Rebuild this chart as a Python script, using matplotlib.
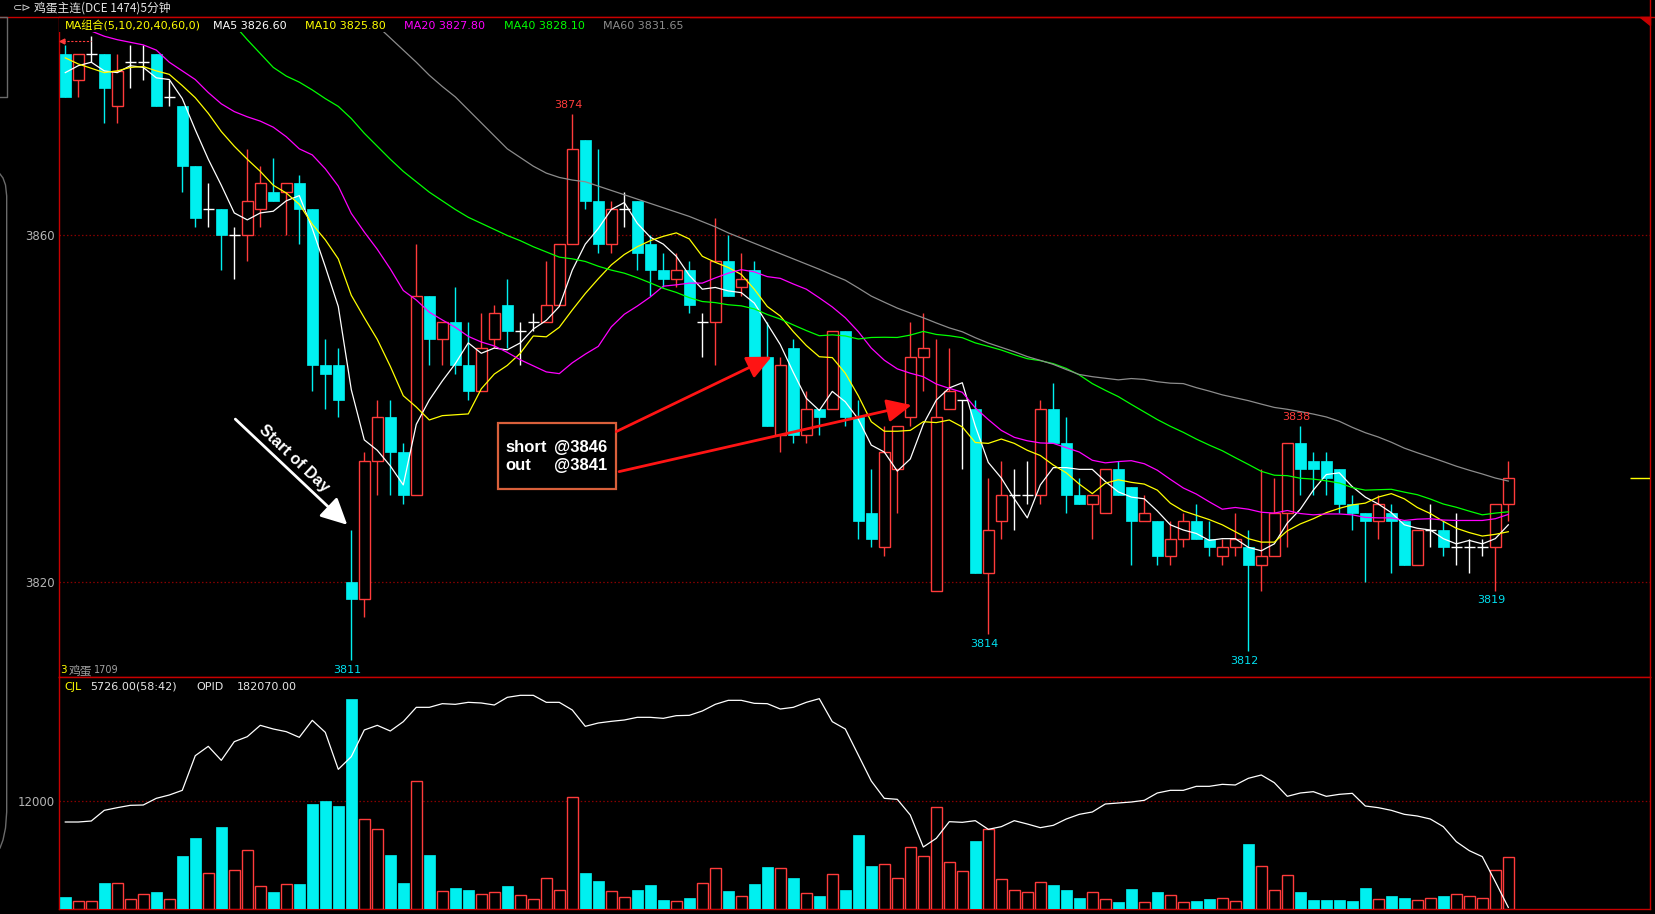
import numpy as np
import pandas as pd
import matplotlib
matplotlib.use("Agg")
import matplotlib.pyplot as plt
from matplotlib.patches import Rectangle, Polygon
from matplotlib.lines import Line2D

# ---------------- data ----------------
opens = [3881, 3878, 3881, 3881, 3875, 3880, 3880, 3881, 3876, 3875,
         3868, 3863, 3863, 3860, 3860, 3863, 3865, 3865, 3866, 3863,
         3845, 3845, 3820, 3818, 3834, 3839, 3835, 3830, 3853, 3848,
         3850, 3845, 3842, 3848, 3852, 3849, 3850, 3850, 3852, 3859,
         3871, 3864, 3859, 3863, 3864, 3859, 3856, 3855, 3856, 3850,
         3850, 3857, 3854, 3856, 3846, 3837, 3847, 3837, 3840, 3840,
         3849, 3839, 3828, 3824, 3833, 3839, 3846, 3819, 3840, 3841,
         3840, 3821, 3827, 3830, 3830, 3830, 3840, 3836, 3830, 3829,
         3828, 3833, 3831, 3827, 3827, 3823, 3825, 3827, 3825, 3823,
         3824, 3824, 3822, 3823, 3828, 3836, 3834, 3834, 3833, 3829,
         3828, 3827, 3828, 3827, 3822, 3826, 3826, 3824, 3824, 3824,
         3824, 3829]
highs = [3882, 3881, 3883, 3881, 3881, 3882, 3882, 3881, 3878, 3875,
         3868, 3866, 3863, 3861, 3870, 3868, 3869, 3866, 3867, 3863,
         3848, 3847, 3826, 3835, 3841, 3841, 3836, 3859, 3853, 3850,
         3854, 3850, 3851, 3852, 3855, 3850, 3851, 3857, 3859, 3874,
         3871, 3870, 3864, 3865, 3864, 3860, 3858, 3858, 3857, 3851,
         3862, 3860, 3858, 3857, 3850, 3846, 3848, 3842, 3840, 3849,
         3849, 3841, 3833, 3838, 3838, 3850, 3851, 3848, 3847, 3841,
         3841, 3832, 3834, 3833, 3834, 3841, 3843, 3839, 3832, 3830,
         3833, 3834, 3831, 3830, 3827, 3827, 3828, 3829, 3827, 3825,
         3828, 3826, 3833, 3832, 3836, 3838, 3835, 3835, 3833, 3830,
         3828, 3830, 3829, 3827, 3826, 3829, 3827, 3828, 3825, 3825,
         3829, 3834]
lows = [3876, 3876, 3880, 3873, 3873, 3877, 3878, 3875, 3875, 3865,
        3861, 3861, 3856, 3855, 3857, 3861, 3864, 3860, 3859, 3842,
        3840, 3839, 3811, 3816, 3830, 3830, 3829, 3830, 3845, 3845,
        3844, 3841, 3842, 3847, 3847, 3845, 3849, 3850, 3852, 3859,
        3863, 3858, 3858, 3861, 3856, 3853, 3854, 3854, 3851, 3846,
        3845, 3853, 3853, 3846, 3838, 3835, 3836, 3836, 3837, 3840,
        3838, 3825, 3824, 3823, 3828, 3838, 3842, 3819, 3840, 3833,
        3821, 3814, 3825, 3826, 3829, 3829, 3836, 3828, 3829, 3825,
        3828, 3830, 3822, 3827, 3822, 3822, 3824, 3825, 3823, 3822,
        3823, 3812, 3819, 3823, 3824, 3830, 3830, 3830, 3828, 3826,
        3820, 3825, 3821, 3822, 3822, 3824, 3823, 3822, 3821, 3823,
        3819, 3827]
closes = [3876, 3881, 3881, 3877, 3879, 3880, 3880, 3875, 3876, 3868,
          3862, 3863, 3860, 3860, 3864, 3866, 3864, 3866, 3863, 3845,
          3844, 3841, 3818, 3834, 3839, 3835, 3830, 3853, 3848, 3850,
          3845, 3842, 3847, 3851, 3849, 3849, 3850, 3852, 3859, 3870,
          3864, 3859, 3863, 3863, 3858, 3856, 3855, 3856, 3852, 3850,
          3857, 3853, 3855, 3846, 3838, 3845, 3837, 3840, 3839, 3849,
          3839, 3827, 3825, 3835, 3838, 3846, 3847, 3839, 3842, 3841,
          3821, 3826, 3830, 3830, 3830, 3840, 3836, 3830, 3829, 3830,
          3833, 3830, 3827, 3828, 3823, 3825, 3827, 3825, 3824, 3824,
          3825, 3822, 3823, 3828, 3836, 3833, 3833, 3832, 3829, 3828,
          3827, 3829, 3827, 3822, 3826, 3826, 3824, 3824, 3824, 3824,
          3829, 3832]
volumes = [1271, 785, 785, 2841, 2804, 1009, 1570, 1832, 1009, 5869,
           7887, 3925, 9121, 4261, 6504, 2467, 1832, 2691, 2729, 11700,
           12036, 11476, 23475, 9980, 8859, 5981, 2841, 14242, 5981, 1906,
           2280, 2056, 1570, 1794, 2504, 1458, 1009, 3364, 2019, 12448,
           3962, 3065, 1906, 1234, 2056, 2617, 935, 785, 1159, 2804,
           4486, 1944, 1346, 2729, 4635, 4486, 3402, 1682, 1383, 3813,
           2056, 8224, 4747, 4934, 3364, 6841, 5831, 11326, 5158, 4149,
           7551, 8859, 3252, 2019, 1794, 2916, 2617, 2056, 1159, 1794,
           1009, 710, 2168, 673, 1832, 1458, 673, 822, 1047, 1121,
           785, 7214, 4710, 2019, 3701, 1832, 935, 935, 935, 822,
           2280, 1009, 1383, 1159, 897, 1121, 1383, 1570, 1383, 1121,
           4261, 5726]
open_interest = [187190, 187190, 187250, 187890, 188050, 188190, 188210, 188610, 188810, 189090,
                 191170, 191730, 190890, 192010, 192310, 192990, 192770, 192610, 192270, 193290,
                 192570, 190350, 191110, 192710, 192990, 192650, 193210, 194070, 194070, 194290,
                 194250, 194370, 194330, 194210, 194670, 194790, 194790, 194370, 194370, 193910,
                 192930, 193130, 193230, 193310, 193470, 193470, 193410, 193570, 193590, 193850,
                 194250, 194490, 194490, 194310, 194290, 193970, 194070, 194370, 194590, 193210,
                 192770, 191210, 189650, 188610, 188550, 187610, 185690, 186210, 187210, 187170,
                 187270, 186750, 186910, 187270, 187070, 186850, 186990, 187370, 187650, 187790,
                 188270, 188330, 188390, 188490, 188930, 189090, 189090, 189330, 189330, 189450,
                 189410, 189810, 190010, 189550, 188730, 188930, 189010, 188730, 188850, 188910,
                 188150, 188050, 187890, 187650, 187550, 187370, 186910, 186010, 185470, 185110,
                 183610, 182070]

# moving-average values at the left edge (their history lies before the window)
nan = np.nan
ma5_head = [3878.8, 3879.6, 3880.0, 3879.0]
ma10_head = [3880.5, 3879.8, 3879.3, 3878.8, 3879.0, 3879.4, 3879.5, 3879.0, 3878.6]
ma20_head = [3886.0, 3885.0, 3883.6, 3883.0, 3882.6, 3882.3, 3882.0, 3881.4, 3880.0, 3879.0,
             3878.0, 3876.5, 3875.2, 3874.3, 3873.7, 3873.2, 3872.5, 3871.4, 3870.0]
ma40_head = [nan] * 11 + [3887.5, 3886.0, 3884.3, 3882.6, 3881.0, 3879.4, 3878.4, 3877.7, 3876.8,
                          3875.8, 3874.9, 3873.5, 3871.8, 3870.3, 3868.8, 3867.4, 3866.2, 3865.0,
                          3864.0, 3863.0, 3862.1, 3861.4, 3860.7, 3860.0, 3859.4, 3858.7, 3858.1,
                          3857.5]
ma60_head = [nan] * 22 + [3887.0, 3885.6, 3884.2, 3882.8, 3881.4, 3880.0, 3878.5, 3877.2, 3876.0,
                          3874.5, 3873.0, 3871.5, 3870.0, 3869.0, 3868.0, 3867.2, 3866.7, 3866.4,
                          3866.2, 3865.7, 3865.2, 3864.7, 3864.2, 3863.7, 3863.2, 3862.7, 3862.2,
                          3861.6, 3861.0, 3860.3, 3859.7, 3859.1, 3858.5, 3857.9, 3857.3, 3856.7,
                          3856.1]
ma_periods = [5, 10, 20, 40, 60]
ma_heads = [ma5_head, ma10_head, ma20_head, ma40_head, ma60_head]
ma_colors = ["#ffffff", "#ffff00", "#ff00ff", "#00ff00", "#8c8c8c"]

price_ticks = [3820, 3860]
vol_ticks = [12000]
high_marks = [39, 95]
low_marks = [22, 71, 91, 110]

title = "鸡蛋主连(DCE 1474)5分钟"

# ---------------- figure ----------------
W, H = 1655, 914
RED = "#ff3b3b"
CYAN = "#00f0f0"
FRAME = "#c80000"
GRID = "#8a0000"
GREY = "#b4b4b4"
CJK = ["Noto Sans CJK SC", "DejaVu Sans"]
LAT = ["DejaVu Sans", "Noto Sans CJK SC"]

plt.rcParams["font.family"] = LAT


def fx(px):
    return px / W


def fy(py):
    return 1 - py / H


fig = plt.figure(figsize=(W / 100, H / 100), dpi=100, facecolor="black")
L, R, T, M, B = 59.3, 1650.0, 17.0, 677.0, 908.5
ax = fig.add_axes([fx(L), fy(M), fx(R) - fx(L), fy(T) - fy(M)], facecolor="black")
axv = fig.add_axes([fx(L), fy(B), fx(R) - fx(L), fy(M) - fy(B)], facecolor="black")

n = len(closes)
x = np.arange(n)
o = np.array(opens, float)
h = np.array(highs, float)
l = np.array(lows, float)
c = np.array(closes, float)
v = np.array(volumes, float)
w = 0.82

XL = (-0.46, 121.9)
ax.set_xlim(*XL)
ax.set_ylim(3809.03, 3885.22)
axv.set_xlim(*XL)
axv.set_ylim(0, 25950)

up = c > o
dn = c < o
dj = c == o

# down candles (filled cyan)
ax.vlines(x[dn], l[dn], h[dn], color=CYAN, lw=1.0, zorder=3)
ax.bar(x[dn], (o - c)[dn], w, bottom=c[dn], color=CYAN, edgecolor=CYAN, lw=0.5, zorder=3)
# up candles (hollow red)
ax.vlines(x[up], c[up], h[up], color=RED, lw=1.0, zorder=3)
ax.vlines(x[up], l[up], o[up], color=RED, lw=1.0, zorder=3)
ax.bar(x[up], (c - o)[up], w, bottom=o[up], facecolor="black", edgecolor=RED, lw=1.0, zorder=3)
# doji (white cross)
ax.vlines(x[dj], l[dj], h[dj], color="white", lw=1.0, zorder=3)
ax.hlines(c[dj], x[dj] - w / 2, x[dj] + w / 2, color="white", lw=1.0, zorder=3)

# moving averages
ma_last = []
cs = pd.Series(c)
for p, head, col in zip(ma_periods, ma_heads, ma_colors):
    m = cs.rolling(p).mean().to_numpy()
    m[:len(head)] = head
    ma_last.append(m[-1])
    ax.plot(x, m, color=col, lw=0.9, zorder=4)

# grid lines and ticks
for a, ticks in ((ax, price_ticks), (axv, vol_ticks)):
    for t in ticks:
        a.axhline(t, color=GRID, lw=0.9, ls=(0, (1.2, 1.8)), zorder=1)
    a.set_yticks(ticks)
    a.set_yticklabels([str(t) for t in ticks])
    a.tick_params(axis="y", length=0, pad=3, labelsize=8.5, labelcolor=GREY)
    a.set_xticks([])
    for s in a.spines.values():
        s.set_color(FRAME)
        s.set_linewidth(1.0)

# extreme labels
for i in high_marks:
    ax.annotate(f"{highs[i]}", (x[i], highs[i]), xytext=(-2.8, 6.5), textcoords="offset points",
                ha="center", va="center", color=RED, fontsize=8, zorder=6)
for i in low_marks:
    ax.annotate(f"{lows[i]}", (x[i], lows[i]), xytext=(-2.8, -7.0), textcoords="offset points",
                ha="center", va="center", color="#00e0f0", fontsize=8, zorder=6)

# last price marker at the right edge
ax.hlines(c[-1], 120.4, XL[1], color="#ffff00", lw=1.0, zorder=5)


# header band and MA legend
def axf(px, py):
    return ((px - L) / (R - L), (M - py) / (M - T))


bx0, by0 = axf(L, 31.5)
bx1, _ = axf(690, 17)
ax.add_patch(Rectangle((bx0, by0), bx1 - bx0, 1 - by0, transform=ax.transAxes,
                       facecolor="black", edgecolor="none", zorder=5))
hdr_y = axf(0, 25.8)[1]
ax.text(axf(64.7, 0)[0], hdr_y, "MA组合(5,10,20,40,60,0)", transform=ax.transAxes,
        color="#ffff00", fontsize=8, va="center", ha="left", family=LAT, zorder=6)
for px, p, val, col in zip([213, 305, 404, 503.6, 602.7], ma_periods, ma_last, ma_colors):
    ax.text(axf(px, 0)[0], hdr_y, f"MA{p} {val:.2f}", transform=ax.transAxes,
            color=col, fontsize=8, va="center", ha="left", zorder=6)

# small dashed marker at top-left
ax.plot([-0.2, 2.0], [3882.4, 3882.4], color=RED, lw=0.8, ls=(0, (2, 1.5)), zorder=5)
ax.plot([-0.25], [3882.4], marker="<", ms=3.5, color=RED, zorder=5)

# bottom-left label of main pane
ax.text(axf(60.5, 0)[0], axf(0, 670)[1], "3", transform=ax.transAxes, color="#ffff00",
        fontsize=7.5, va="center", ha="left", zorder=6)
ax.text(axf(68.5, 0)[0], axf(0, 671)[1], "鸡蛋", transform=ax.transAxes, color="#a0a0a0",
        fontsize=8.5, va="center", ha="left", family=CJK, zorder=6)
ax.text(axf(93.5, 0)[0], axf(0, 670)[1], "1709", transform=ax.transAxes, color="#a0a0a0",
        fontsize=7, va="center", ha="left", zorder=6)

# annotation box
box_font = dict(family=["Liberation Sans", "DejaVu Sans"], fontweight="bold", fontsize=12,
                color="white", va="center", zorder=8)
ax.add_patch(Rectangle((33.26, 3830.70), 9.12, 7.68, facecolor="black", edgecolor="#d9603b",
                       lw=1.6, zorder=7))
ax.text(33.88, 3835.56, "short", ha="left", **box_font)
ax.text(41.69, 3835.56, "@3846", ha="right", **box_font)
ax.text(33.88, 3833.39, "out", ha="left", **box_font)
ax.text(41.69, 3833.39, "@3841", ha="right", **box_font)

arrow_red = dict(arrowstyle="-|>,head_length=0.75,head_width=0.35", color="#ff1414", lw=2.0,
                 mutation_scale=20, shrinkA=0, shrinkB=0)
ax.annotate("", xy=(54.34, 3846.01), xytext=(42.38, 3837.36), arrowprops=arrow_red, zorder=7)
ax.annotate("", xy=(65.1, 3840.42), xytext=(42.6, 3832.74), arrowprops=arrow_red, zorder=7)

arrow_white = dict(arrowstyle="-|>,head_length=0.8,head_width=0.4", color="white", lw=2.0,
                   mutation_scale=20, shrinkA=0, shrinkB=0)
ax.annotate("", xy=(21.69, 3826.6), xytext=(13.08, 3838.8), arrowprops=arrow_white, zorder=7)
ax.text(17.6, 3834.2, "Start of Day", rotation=-43.4, rotation_mode="anchor", ha="center",
        va="center", color="white", fontsize=11.5, fontweight="bold",
        family=["Liberation Sans", "DejaVu Sans"], zorder=7)

# ---------------- volume pane ----------------
vup = c >= o
axv.bar(x[~vup], v[~vup], w, color=CYAN, edgecolor=CYAN, lw=0.5, zorder=3)
axv.bar(x[vup], v[vup], w, facecolor="black", edgecolor=RED, lw=1.0, zorder=3)
axo = axv.twinx()
axo.set_ylim(182000, 195890)
axo.plot(x, open_interest, color="white", lw=0.9, zorder=4)
axo.axis("off")

vh_y = (B - 686.7) / (B - M)
axv.text((64.3 - L) / (R - L), vh_y, "CJL", transform=axv.transAxes, color="#ffff00",
         fontsize=8, va="center", ha="left", zorder=6)
axv.text((90 - L) / (R - L), vh_y, f"{volumes[-1]:.2f}(58:42)", transform=axv.transAxes,
         color="#e6e6e6", fontsize=8, va="center", ha="left", zorder=6)
axv.text((196.7 - L) / (R - L), vh_y, "OPID", transform=axv.transAxes, color="#e6e6e6",
         fontsize=8, va="center", ha="left", zorder=6)
axv.text((236.7 - L) / (R - L), vh_y, f"{open_interest[-1]:.2f}", transform=axv.transAxes,
         color="#e6e6e6", fontsize=8, va="center", ha="left", zorder=6)

# ---------------- window chrome ----------------
fig.add_artist(Line2D([0, 1], [fy(17), fy(17)], color=FRAME, lw=1.0, transform=fig.transFigure))
fig.add_artist(Line2D([fx(1650), fx(1650)], [fy(0), fy(17)], color=FRAME, lw=1.0,
                      transform=fig.transFigure))
fig.add_artist(Polygon([[fx(1640), fy(17)], [fx(1650), fy(17)], [fx(1650), fy(25)]],
                       closed=True, color=FRAME, transform=fig.transFigure))
fig.add_artist(Line2D([fx(0), fx(6.7), fx(6.7), fx(0)], [fy(17), fy(17), fy(97), fy(97)],
                      color="#6a6a6a", lw=1.0, transform=fig.transFigure))
cx = [0, 3, 5.5, 6.7, 6.7, 5.5, 3, 0]
cy = [174, 178, 185, 196, 812, 828, 840, 848]
fig.add_artist(Line2D([fx(t) for t in cx], [fy(t) for t in cy], color="#6a6a6a", lw=1.0,
                      transform=fig.transFigure))

fig.text(fx(12.5), fy(8), "⊂⊳", color="#d0d0d0", fontsize=8, va="center", ha="left",
         family=["DejaVu Sans"])
fig.text(fx(33.5), fy(8), title, color="#e6e6e6", fontsize=8.5, va="center", ha="left",
         family=CJK)

fig.savefig("out.png", dpi=100, facecolor="black")
